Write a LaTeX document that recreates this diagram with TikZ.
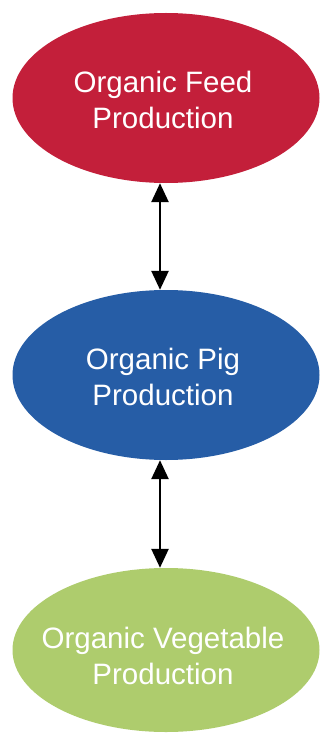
\documentclass[tikz,border=0pt]{standalone}
\usepackage{fontspec}
\setmainfont{Liberation Sans}
\usetikzlibrary{arrows.meta,shapes.geometric}
\definecolor{feedred}{HTML}{C31F3A}
\definecolor{pigblue}{HTML}{265DA6}
\definecolor{veggreen}{HTML}{AECC6D}
\begin{document}
\begin{tikzpicture}[x=1pt,y=-1pt,
  oval/.style={ellipse, minimum width=307pt, minimum height=170pt, inner sep=0pt},
  lbl/.style={text=white, align=center, inner sep=0pt, font=\fontsize{29.5}{36}\selectfont},
  link/.style={line width=2.6pt, {Triangle[length=19pt,width=17pt]}-{Triangle[length=19pt,width=17pt]}}]
\useasboundingbox[fill=white] (0,0) rectangle (321,733);
\node[oval, fill=feedred] (feed) at (166,98) {};
\node[oval, fill=pigblue] (pig) at (166,375) {};
\node[oval, fill=veggreen, minimum height=164pt] (veg) at (166,650) {};
\node[lbl] (feedtxt) at (163,100) {Organic Feed\\Production};
\node[lbl] (pigtxt) at (163,377) {Organic Pig\\Production};
\node[lbl] (vegtxt) at (163,656) {Organic Vegetable\\Production};
\draw[link] ([xshift=-6pt]feed.south) -- ([xshift=-6pt]pig.north);
\draw[link] ([xshift=-6pt]pig.south) -- ([xshift=-6pt]veg.north);
\end{tikzpicture}
\end{document}
